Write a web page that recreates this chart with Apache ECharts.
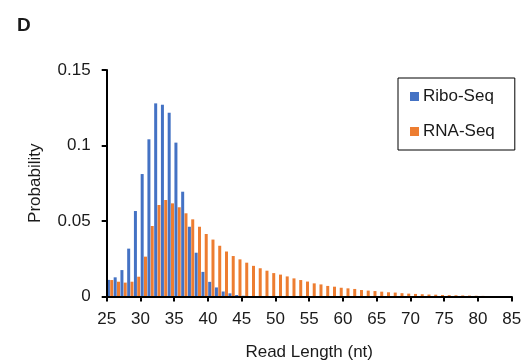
<!DOCTYPE html>
<html>
<head>
<meta charset="utf-8">
<script src="https://cdn.jsdelivr.net/npm/echarts@6/dist/echarts.min.js"></script>
<style>
html,body{margin:0;padding:0;background:#fff;}
#c{width:532px;height:362px;}
</style>
</head>
<body>
<div id="c"></div>
<script>
const categories = [];
for (let v = 25; v <= 85; v++) categories.push(String(v));

const riboSeq = [
  0.0110, 0.0127, 0.0175, 0.0317, 0.0566, 0.0811, 0.1041, 0.1279, 0.1270, 0.1217,
  0.1019, 0.0694, 0.0462, 0.0290, 0.0163, 0.0097, 0.0060, 0.0033, 0.0021, 0.0010,
  0.0005, 0.0002, 0.0001, 0, 0, 0, 0, 0, 0, 0,
  0, 0, 0, 0, 0, 0, 0, 0, 0, 0,
  0, 0, 0, 0, 0, 0, 0, 0, 0, 0,
  0, 0, 0, 0, 0, 0, 0, 0, 0, 0,
  0
];
// first value is hidden behind the axis in the reference (not readable)
const rnaSeq = [
  null, 0.0109, 0.0098, 0.0092, 0.0098, 0.0131, 0.0264, 0.0467, 0.0606, 0.0639,
  0.0617, 0.0591, 0.0551, 0.0511, 0.0462, 0.0414, 0.0377, 0.0336, 0.0298, 0.0268,
  0.0246, 0.0224, 0.0203, 0.0187, 0.0171, 0.0155, 0.0145, 0.0133, 0.0120, 0.0109,
  0.0099, 0.0087, 0.0080, 0.0070, 0.0065, 0.0058, 0.0054, 0.0050, 0.0043, 0.0039,
  0.0036, 0.0032, 0.0028, 0.0026, 0.0022, 0.0019, 0.0017, 0.0015, 0.0013, 0.0012,
  0.0010, 0.0009, 0.0008, 0.0007, 0.0006, 0.0005, 0.0004, 0.0003, 0.0003, 0.0002,
  0.0002
];
const seriesNames = ['Ribo-Seq', 'RNA-Seq'];
const yTicks = [0, 0.05, 0.1, 0.15];

const FONT = 'Liberation Sans, Arial, sans-serif';
const TXT = '#1a1a1a';

const chart = echarts.init(document.getElementById('c'), null, {renderer: 'canvas'});
chart.setOption({
  animation: false,
  backgroundColor: '#ffffff',
  textStyle: {fontFamily: FONT, color: TXT},
  title: {
    text: 'D', left: 12, top: 11,
    textStyle: {fontFamily: FONT, fontSize: 19, fontWeight: 'bold', color: TXT}
  },
  legend: {
    data: seriesNames,
    orient: 'vertical',
    left: 398, top: 78,
    padding: [10, 20, 10, 12],
    itemGap: 18,
    itemWidth: 9, itemHeight: 9,
    icon: 'rect',
    borderColor: '#000', borderWidth: 1,
    textStyle: {fontFamily: FONT, fontSize: 17, color: TXT, padding: [0, 0, 0, -1]}
  },
  grid: {left: 106.7, right: 20.3, top: 70, bottom: 65.5, containLabel: false, outerBoundsMode: 'none'},
  xAxis: {
    type: 'category',
    data: categories,
    boundaryGap: false,
    z: 5,
    name: 'Read Length (nt)',
    nameLocation: 'middle',
    nameGap: 47,
    nameTextStyle: {fontFamily: FONT, fontSize: 17, color: TXT},
    axisLine: {lineStyle: {color: '#000', width: 2}},
    axisTick: {show: true, interval: 4, length: 5, lineStyle: {color: '#000', width: 2}},
    axisLabel: {interval: 4, margin: 14, fontFamily: FONT, fontSize: 17, color: TXT},
    splitLine: {show: false}
  },
  yAxis: {
    type: 'value',
    min: yTicks[0], max: yTicks[yTicks.length - 1], interval: 0.05,
    z: 5,
    name: 'Probability',
    nameLocation: 'middle',
    nameGap: 63,
    nameTextStyle: {fontFamily: FONT, fontSize: 17, color: TXT},
    axisLine: {show: true, lineStyle: {color: '#000', width: 2}},
    axisTick: {show: true, length: 5, lineStyle: {color: '#000', width: 2}},
    axisLabel: {margin: 16, fontFamily: FONT, fontSize: 17, color: TXT},
    splitLine: {show: false}
  },
  series: [
    {
      name: seriesNames[1], type: 'bar', data: rnaSeq,
      barWidth: 3, barGap: '15%', clip: true,
      itemStyle: {color: '#ED7D31'}
    },
    {
      name: seriesNames[0], type: 'bar', data: riboSeq,
      barWidth: 3, barGap: '15%', clip: true,
      itemStyle: {color: '#4472C4'}
    }
  ]
});
</script>
</body>
</html>
